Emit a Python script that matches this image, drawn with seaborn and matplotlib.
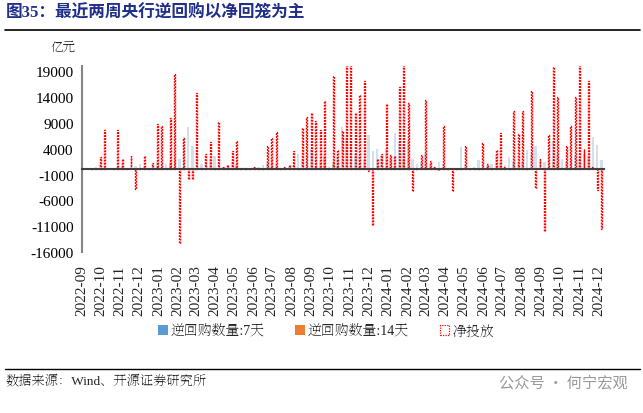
import matplotlib
matplotlib.use("Agg")
import matplotlib.pyplot as plt
import seaborn as sns
import numpy as np
import pandas as pd
from matplotlib.patches import Patch

# ---------------- data (weekly, Fridays from 2022-09-02) ----------------
first_week = "2022-09-02"
net_injection = [
    0, 0, 0, 300, 2300, 7600, 200, 200, 7600, 2000,
    200, 2650, -3870, 0, 2600, 200, 1300, 8840, 8450, 300,
    10000, 18450, -14310, 6000, -1860, -1860, 14700, 270, 2970, 5220,
    100, 9100, 520, 850, 3620, 5550, 50, 50, 50, 390,
    100, 100, 4580, 6070, 7290, 100, 520, 850, 3620, 100,
    8000, 10190, 10900, 9420, 7620, 13290, 0, 18120, 3750, 7350,
    21000, 21000, 10830, 14380, 17150, -390, -10700, 1930, 2970, 12640,
    2840, 2650, 16000, 21000, 12900, -4250, 100, 2780, 13420, 1680,
    390, -200, 8320, 100, -4120, 50, 0, 4450, 100, 0,
    100, 5160, 1040, 0, 3750, 7100, 520, 100, 11220, 6840,
    11350, 100, 15220, -3600, 2000, -12000, 6650, 19800, 14060, 0,
    4580, 8450, 13930, 21000, 3940, 17150, 520, -3990, -11530,
]
repo_7d = [
    300, 300, 300, 500, 1100, 300, 300, 300, 600, 1100,
    300, 500, 600, 1100, 500, 300, 600, 1400, 600, 1000,
    1200, 1500, 2000, 6300, 8260, 4580, 3300, 1000, 1500, 2000,
    2650, 1000, 500, 800, 1500, 800, 300, 300, 300, 500,
    500, 850, 1200, 2000, 1000, 300, 300, 500, 1000, 2970,
    2000, 2500, 3900, 2000, 1680, 2300, 500, 1000, 2500, 8260,
    6070, 5000, 3000, 2500, 2000, 6580, 3620, 3900, 2500, 3900,
    2000, 7100, 5220, 4840, 5550, 2000, 1000, 1500, 2970, 1000,
    500, 1500, 1000, 300, 300, 300, 4330, 1000, 300, 500,
    1800, 1000, 800, 1000, 2800, 1500, 800, 2300, 1500, 1200,
    1500, 3750, 3000, 4580, 2000, 1500, 2500, 5550, 3000, 2000,
    1500, 2000, 2840, 2300, 3000, 2500, 6300, 4770, 1800,
]
repo_14d = [0] * len(net_injection)
for k, v in {20: 1500, 21: 2000, 55: 2500, 57: 1500, 73: 2000, 74: 2000,
             107: 1500, 108: 1200}.items():
    repo_14d[k] = v

month_starts = pd.date_range("2022-09-01", "2024-12-01", freq="MS")
month_labels = [d.strftime("%Y-%m") for d in month_starts]

# ---------------- build frame ----------------
origin = pd.Timestamp("2022-09-01")
weeks = pd.date_range(first_week, periods=len(net_injection), freq="7D")
df = pd.DataFrame({
    "day": (weeks - origin).days.astype(float),
    "net": net_injection,
    "r7": repo_7d,
    "r14": repo_14d,
})
tick_days = (month_starts - origin).days.astype(float)

# ---------------- style ----------------
sns.set_style("white")
serif = ["Liberation Serif", "DejaVu Serif"]
mixed = ["Liberation Serif", "Noto Serif SC", "Noto Sans CJK SC", "DejaVu Sans"]
title_fam = ["Liberation Serif", "Noto Sans CJK SC", "DejaVu Sans"]
plt.rcParams["font.family"] = mixed
plt.rcParams["axes.unicode_minus"] = False

fig = plt.figure(figsize=(6.43, 4.14), dpi=100)
ax = fig.add_axes([0.1275, 0.389, 0.812, 0.449])

blue = "#5b9bd5"
orange = "#ed7d31"
red = "#ff0000"

sns.barplot(data=df, x="day", y="r7", native_scale=True, width=0.55,
            color=blue, alpha=0.3, linewidth=0, errorbar=None, ax=ax)
sns.barplot(data=df, x="day", y="r14", native_scale=True, width=0.55,
            color=orange, alpha=0.28, linewidth=0, errorbar=None, ax=ax)
sns.barplot(data=df, x="day", y="net", native_scale=True, width=0.22,
            fill=False, color=red, linewidth=1.0, linestyle=(0, (1.3, 0.9)),
            errorbar=None, ax=ax)
for p in ax.patches[-len(df):]:
    p.set_edgecolor(red)
    p.set_facecolor("none")
    p.set_linestyle((0, (1.3, 0.9)))
    p.set_linewidth(1.0)

ax.set_ylim(-16000, 20000)
ax.set_xlim(0, 831)
ax.set_xlabel("")
ax.set_ylabel("")

# y axis
ax.set_yticks(np.arange(-16000, 19001, 5000))
ax.tick_params(axis="y", direction="in", length=3, width=1, color="#868686",
               labelsize=11, pad=6, labelcolor="black")
for lbl in ax.get_yticklabels():
    lbl.set_family(serif)
ax.spines["left"].set_color("#868686")
ax.spines["left"].set_linewidth(1.5)
ax.spines["right"].set_visible(False)
ax.spines["top"].set_visible(False)

# x axis at zero
ax.spines["bottom"].set_position(("data", 0))
ax.spines["bottom"].set_color("#404040")
ax.spines["bottom"].set_linewidth(1.5)
ax.spines["bottom"].set_zorder(5)
ax.set_xticks(tick_days)
ax.set_xticklabels([])
ax.tick_params(axis="x", direction="in", length=4, width=1.2, color="black")

sec = ax.secondary_xaxis(0.0)
sec.set_xticks(tick_days, labels=month_labels)
sec.tick_params(axis="x", length=0, pad=9, labelsize=11, rotation=90)
for lbl in sec.get_xticklabels():
    lbl.set_family(serif)
sec.spines["bottom"].set_visible(False)

# unit label
fig.text(50 / 643, 1 - 48 / 414, "亿元", family=mixed, fontsize=9,
         ha="left", va="center")

# legend
handles = [
    Patch(facecolor=blue, edgecolor="none", label="逆回购数量:7天"),
    Patch(facecolor=orange, edgecolor="none", label="逆回购数量:14天"),
    Patch(facecolor="white", edgecolor=red, linestyle=(0, (1, 1)),
          linewidth=0.9, label="净投放"),
]
fig.legend(handles=handles, loc="center", bbox_to_anchor=(326 / 643, 1 - 332 / 414),
           ncol=3, frameon=False, prop={"family": mixed, "size": 10},
           handlelength=0.7, handleheight=0.7, handletextpad=0.2,
           columnspacing=2.2)

# title and rules
fig.text(6 / 643, 1 - 13 / 414, "图35：最近两周央行逆回购以净回笼为主",
         family=title_fam, fontsize=12, fontweight="bold", color="#1f2f8a",
         ha="left", va="center")
fig.add_artist(plt.Line2D([5 / 643, 640 / 643], [1 - 30.5 / 414, 1 - 30.5 / 414],
                          color="black", linewidth=1.2))
fig.add_artist(plt.Line2D([5 / 643, 640 / 643], [1 - 370 / 414, 1 - 370 / 414],
                          color="black", linewidth=1.0))
fig.text(5 / 643, 1 - 382 / 414, "数据来源：Wind、开源证券研究所",
         family=mixed, fontsize=9.5, ha="left", va="center")
fig.text(628 / 643, 1 - 383 / 414, "公众号 · 何宁宏观",
         family=["Noto Sans CJK SC", "DejaVu Sans"], fontsize=11,
         color="#9a9a9a", ha="right", va="center")

fig.savefig("out.png", dpi=100)
